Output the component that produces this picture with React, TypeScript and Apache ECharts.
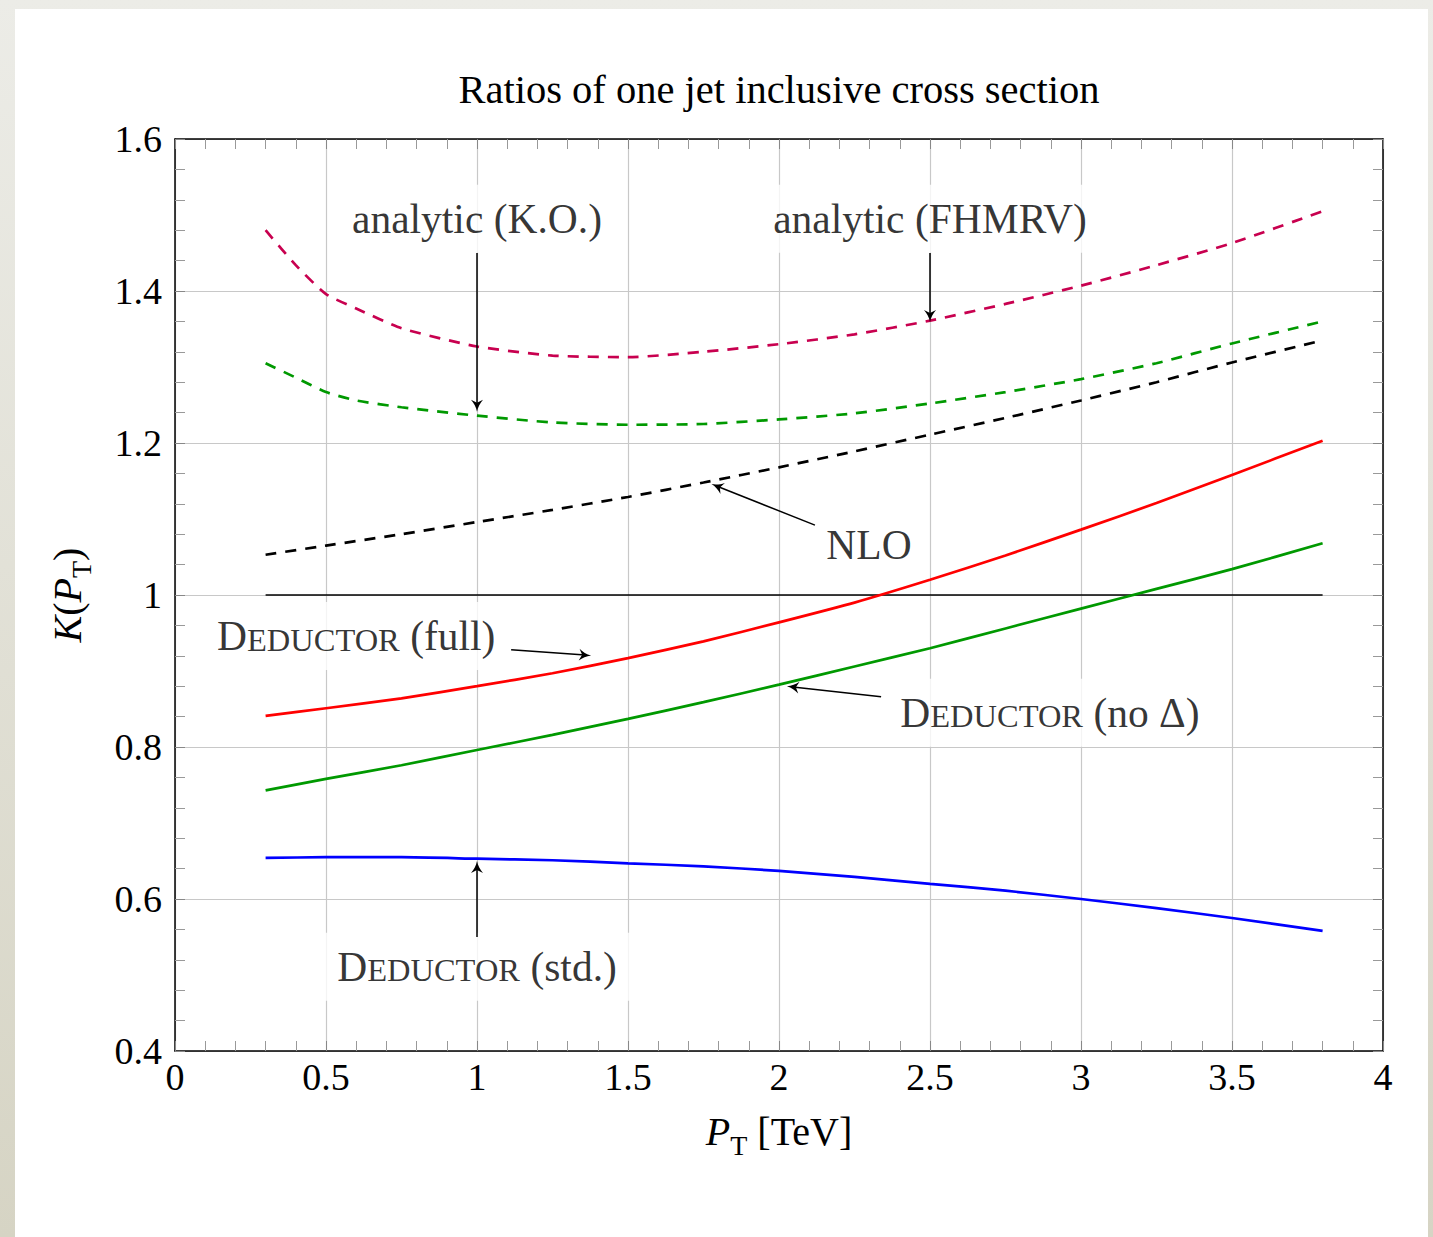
import React, { useEffect, useRef } from "react";
import * as echarts from "echarts";

// ---------- data ----------
const PT_DENSE = [0.3, 0.4, 0.5, 0.6, 0.75, 1.0, 1.25, 1.5, 1.75, 2.0, 2.25, 2.5, 2.75, 3.0, 3.25, 3.5, 3.8];
const PT = [0.3, 0.5, 0.75, 1.0, 1.25, 1.5, 1.75, 2.0, 2.25, 2.5, 2.75, 3.0, 3.25, 3.5, 3.8];

const analyticFHMRV = [1.48, 1.434, 1.396, 1.377, 1.351, 1.327, 1.315, 1.313, 1.32, 1.33, 1.343, 1.361, 1.383, 1.407, 1.434, 1.463, 1.505];
const analyticKO = [1.305, 1.286, 1.267, 1.256, 1.247, 1.236, 1.227, 1.224, 1.225, 1.231, 1.239, 1.252, 1.267, 1.284, 1.305, 1.331, 1.36];

const nlo = [1.053, 1.065, 1.08, 1.096, 1.112, 1.129, 1.148, 1.168, 1.189, 1.211, 1.233, 1.256, 1.28, 1.306, 1.335];
const deductorFull = [0.841, 0.851, 0.864, 0.88, 0.897, 0.917, 0.939, 0.964, 0.99, 1.02, 1.052, 1.086, 1.121, 1.158, 1.203];
const deductorNoDelta = [0.743, 0.758, 0.776, 0.796, 0.816, 0.837, 0.859, 0.882, 0.906, 0.93, 0.956, 0.982, 1.008, 1.034, 1.068];
const deductorStd = [0.654, 0.655, 0.655, 0.653, 0.651, 0.647, 0.643, 0.637, 0.629, 0.62, 0.611, 0.6, 0.588, 0.575, 0.558];

const unityX = [0.3, 3.8];
const unityY = [1, 1];

// annotation texts (anchor in data coordinates)
const annotationTexts = [
  { x: 1.0, y: 1.495, text: "{n|analytic (K.O.)}" },
  { x: 2.5, y: 1.495, text: "{n|analytic (FHMRV)}" },
  { x: 2.298, y: 1.066, text: "{n|NLO}" },
  { x: 0.6, y: 0.946, text: "{n|D}{sc|EDUCTOR}{n| (full)}" },
  { x: 2.897, y: 0.845, text: "{n|D}{sc|EDUCTOR}{n| (no Δ)}" },
  { x: 1.0, y: 0.511, text: "{n|D}{sc|EDUCTOR}{n| (std.)}" },
];

// annotation arrows: [fromX, fromY, toX, toY]
const annotationArrows = [
  [1.0, 1.45, 1.0, 1.249],
  [2.5, 1.45, 2.5, 1.367],
  [2.119, 1.092, 1.795, 1.143],
  [1.113, 0.928, 1.358, 0.921],
  [2.338, 0.866, 2.046, 0.879],
  [1.0, 0.55, 1.0, 0.642],
];

const X_MIN = 0, X_MAX = 4, X_STEP = 0.5;
const Y_MIN = 0.4, Y_MAX = 1.6, Y_STEP = 0.2;

const TITLE = "Ratios of one jet inclusive cross section";

// ---------- styling ----------
const FONT = "Liberation Serif, DejaVu Serif, serif";
const zip = (xs: number[], ys: number[]) => xs.map((x, i) => [x, ys[i]]);
const ARROW = "path://M0,0 C1,4 3,7 6,10 L0,7.5 L-6,10 C-3,7 -1,4 0,0 Z";

const richMath = {
  i: { fontFamily: FONT, fontSize: 40, fontStyle: "italic", color: "#000", padding: [0, 0, 8, 0], verticalAlign: "bottom" },
  n: { fontFamily: FONT, fontSize: 40, color: "#000", padding: [0, 0, 8, 0], verticalAlign: "bottom" },
  s: { fontFamily: FONT, fontSize: 28, lineHeight: 28, color: "#000", verticalAlign: "bottom" },
};

const richLabel = {
  n: { fontFamily: FONT, fontSize: 41.5, lineHeight: 42, color: "#000", textBorderWidth: 0, verticalAlign: "bottom" },
  sc: { fontFamily: FONT, fontSize: 32.5, lineHeight: 33, color: "#000", textBorderWidth: 0, verticalAlign: "bottom", padding: [0, 0, 1, 0] },
};

function baseAxis(extra: any) {
  return {
    type: "value",
    axisLine: { show: true, onZero: false, lineStyle: { color: "#000", width: 1.5 } },
    axisTick: { show: true, inside: true, length: 10, lineStyle: { color: "#888", width: 1 } },
    minorTick: { show: true, splitNumber: 5, length: 10, lineStyle: { color: "#999", width: 1 } },
    ...extra,
  };
}

function lineSeries(name: string, xs: number[], ys: number[], color: string, dashed: boolean) {
  return {
    name,
    type: "line",
    data: zip(xs, ys),
    showSymbol: false,
    symbol: "none",
    smooth: 0.2,
    lineStyle: { color, width: 2.7, type: dashed ? [11, 9] : "solid" },
    z: 3,
  };
}

const option: any = {
  animation: false,
  backgroundColor: "transparent",
  title: {
    text: TITLE,
    left: 774,
    top: 64,
    textAlign: "center",
    textStyle: { fontFamily: FONT, fontSize: 40.5, fontWeight: "normal", color: "#000" },
  },
  grid: { left: 175, top: 139, width: 1208, height: 912, containLabel: false },
  xAxis: [
    baseAxis({
      min: X_MIN, max: X_MAX, interval: X_STEP, position: "bottom",
      axisLabel: { fontFamily: FONT, fontSize: 38, color: "#000", margin: 7 },
      splitLine: { show: true, lineStyle: { color: "#c8c8c8", width: 1.2 } },
      name: "{i|P}{s|T}{n| [TeV]}",
      nameLocation: "middle",
      nameGap: 60,
      nameTextStyle: { rich: richMath },
    }),
    baseAxis({
      min: X_MIN, max: X_MAX, interval: X_STEP, position: "top",
      axisLabel: { show: false },
      splitLine: { show: false },
    }),
  ],
  yAxis: [
    baseAxis({
      min: Y_MIN, max: Y_MAX, interval: Y_STEP, position: "left",
      axisLabel: { fontFamily: FONT, fontSize: 38, color: "#000", margin: 13 },
      splitLine: { show: true, lineStyle: { color: "#c8c8c8", width: 1.2 } },
      name: "{i|K}{n|(}{i|P}{s|T}{n|)}",
      nameLocation: "middle",
      nameRotate: 90,
      nameGap: 80,
      nameTextStyle: { rich: richMath },
    }),
    baseAxis({
      min: Y_MIN, max: Y_MAX, interval: Y_STEP, position: "right",
      axisLabel: { show: false },
      splitLine: { show: false },
    }),
  ],
  series: [
    {
      name: "unity",
      type: "line",
      data: zip(unityX, unityY),
      showSymbol: false,
      symbol: "none",
      lineStyle: { color: "#000", width: 1.3 },
      z: 2,
    },
    lineSeries("analytic (FHMRV)", PT_DENSE, analyticFHMRV, "#c8004f", true),
    lineSeries("analytic (K.O.)", PT_DENSE, analyticKO, "#009900", true),
    lineSeries("NLO", PT, nlo, "#000000", true),
    lineSeries("Deductor (full)", PT, deductorFull, "#ff0000", false),
    lineSeries("Deductor (no Delta)", PT, deductorNoDelta, "#009900", false),
    lineSeries("Deductor (std.)", PT, deductorStd, "#0000ff", false),
    {
      name: "arrows",
      type: "lines",
      coordinateSystem: "cartesian2d",
      xAxisIndex: 0,
      yAxisIndex: 0,
      silent: true,
      symbol: ["none", ARROW],
      symbolSize: [11, 12],
      lineStyle: { color: "#000", width: 1.5, opacity: 1, curveness: 0 },
      data: annotationArrows.map((a) => ({ coords: [[a[0], a[1]], [a[2], a[3]]] })),
      z: 6,
    },
    {
      name: "annotations",
      type: "scatter",
      silent: true,
      symbolSize: 1,
      itemStyle: { color: "rgba(255,255,255,0)" },
      z: 5,
      data: annotationTexts.map((t) => ({
        value: [t.x, t.y],
        label: {
          show: true,
          position: "inside",
          formatter: t.text,
          color: "#000",
          textBorderWidth: 0,
          backgroundColor: "#fff",
          padding: [13, 14],
          rich: richLabel,
        },
      })),
    },
  ],
};

export default function App() {
  const ref = useRef<HTMLDivElement>(null);
  useEffect(() => {
    const chart = echarts.init(ref.current!, null, { renderer: "svg" });
    chart.setOption(option);
    return () => chart.dispose();
  }, []);
  return (
    <div
      style={{
        position: "fixed",
        left: 0,
        top: 0,
        width: 1433,
        height: 1237,
        background: "linear-gradient(to bottom, #ecece7, #d6d4c4)",
        overflow: "hidden",
      }}
    >
      <div style={{ position: "absolute", left: 15, top: 9, width: 1413, height: 1228, background: "#fff" }} />
      <div ref={ref} style={{ position: "absolute", left: 0, top: 0, width: 1433, height: 1237 }} />
    </div>
  );
}
